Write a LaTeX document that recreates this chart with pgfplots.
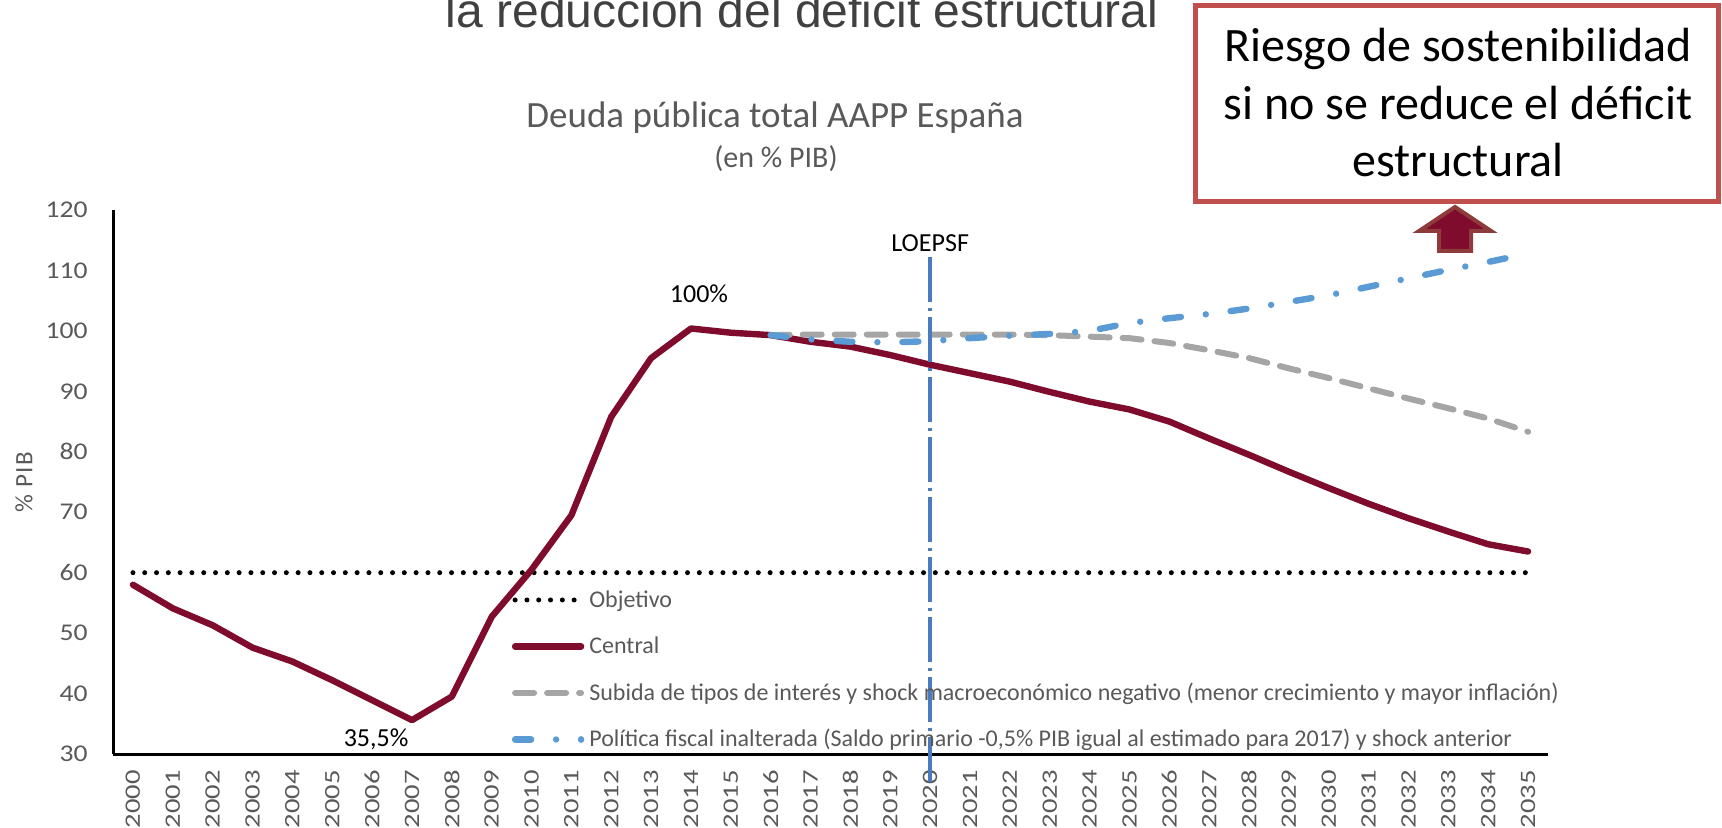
\documentclass[border=0pt]{standalone}
\usepackage{pgfplots}
\pgfplotsset{compat=1.18}
\usepackage{fontspec}
\setmainfont{Carlito}
\newfontfamily\arialf{Liberation Sans}
\newfontfamily\xstretchf[FakeStretch=1.3]{Carlito}
\newfontfamily\ystretchf[FakeStretch=1.15]{Carlito}
\newfontfamily\spacedf[LetterSpace=5]{Carlito}

\definecolor{cmaroon}{HTML}{7F0C2D}
\definecolor{cgraytxt}{HTML}{595959}
\definecolor{ctitle}{HTML}{404040}
\definecolor{cgrayline}{HTML}{A5A5A5}
\definecolor{cblue}{HTML}{5B9BD5}
\definecolor{cloe}{HTML}{4A7BBF}
\definecolor{cbox}{HTML}{C0504D}
\definecolor{carrowb}{HTML}{8E3B3B}

\begin{document}
\begin{tikzpicture}
\path[use as bounding box] (0,0) rectangle (861bp,414bp);
\clip (0,0) rectangle (861bp,414bp);

\node[anchor=base, text=ctitle, font=\arialf\fontsize{24bp}{28bp}\selectfont, inner sep=0pt] at (401bp,400bp) {la reducción del déficit estructural};

\node[anchor=base, text=cgraytxt, font=\fontsize{18.5bp}{22bp}\selectfont, inner sep=0pt] at (387.5bp,350bp) {Deuda pública total AAPP España};
\node[anchor=base, text=cgraytxt, font=\fontsize{15bp}{18bp}\selectfont, inner sep=0pt] at (388bp,330bp) {(en \% PIB)};

\node[rotate=90, text=cgraytxt, font=\spacedf\fontsize{12.5bp}{14bp}\selectfont, inner sep=0pt] at (12bp,173bp) {\% PIB};

\begin{axis}[
  at={(56.5bp,37bp)}, anchor=south west,
  scale only axis, width=717.5bp, height=272bp,
  xmin=1999.5, xmax=2035.5, ymin=30, ymax=120,
  axis x line*=bottom, axis y line*=left,
  axis line style={black, line width=1.5bp, -},
  xtick={2000,2001,...,2035}, ytick={30,40,...,120},
  major tick length=0pt,
  tick style={draw=none},
  /pgf/number format/assume math mode=true,
  /pgf/number format/1000 sep={},
  xticklabel style={rotate=90, anchor=east, inner sep=0pt, font=\xstretchf\fontsize{11bp}{13bp}\selectfont, text=cgraytxt},
  yticklabel style={anchor=east, inner sep=0pt, font=\ystretchf\fontsize{12bp}{14bp}\selectfont, text=cgraytxt},
  xticklabel shift=8bp, yticklabel shift=12.5bp,
  clip=false,
  no markers,
  legend style={draw=none, fill=none, inner sep=0pt, outer sep=0pt,
    at={(0.278,0.303)}, anchor=north west,
    font=\fontsize{12bp}{14bp}\selectfont, text=cgraytxt,
    row sep=11.25bp,
    nodes={inner sep=0pt, text height=9bp, text depth=3bp},
    /tikz/every odd column/.append style={column sep=2.5bp}},
  legend cell align=left,
  legend image code/.code={\draw[#1] (0bp,0.6bp) -- (33bp,0.6bp);},
]
\addplot[black, line width=2.5bp, line cap=round, dash pattern=on 0bp off 5.9bp] coordinates {
(2000,60) (2001,60) (2002,60) (2003,60) (2004,60) (2005,60) (2006,60) (2007,60) (2008,60) (2009,60)
(2010,60) (2011,60) (2012,60) (2013,60) (2014,60) (2015,60) (2016,60) (2017,60) (2018,60) (2019,60)
(2020,60) (2021,60) (2022,60) (2023,60) (2024,60) (2025,60) (2026,60) (2027,60) (2028,60) (2029,60)
(2030,60) (2031,60) (2032,60) (2033,60) (2034,60) (2035,60)};
\addlegendentry{Objetivo}
\addplot[cmaroon, line width=3.2bp, line join=round, line cap=round] coordinates {
(2000,58.0) (2001,54.1) (2002,51.3) (2003,47.6) (2004,45.3) (2005,42.2) (2006,38.9) (2007,35.6)
(2008,39.5) (2009,52.7) (2010,60.5) (2011,69.5) (2012,85.8) (2013,95.5) (2014,100.4) (2015,99.7)
(2016,99.3) (2017,98.2) (2018,97.4) (2019,96.0) (2020,94.4) (2021,93.0) (2022,91.6) (2023,89.9)
(2024,88.3) (2025,87.0) (2026,85.0) (2027,82.2) (2028,79.5) (2029,76.7) (2030,74.0) (2031,71.4)
(2032,69.0) (2033,66.8) (2034,64.7) (2035,63.5)};
\addlegendentry{Central}
\addplot[cgrayline, line width=3bp, line cap=round, line join=round, dash pattern=on 9.5bp off 6.5bp] coordinates {
(2016,99.3) (2017,99.4) (2018,99.4) (2019,99.4) (2020,99.4) (2021,99.4) (2022,99.4) (2023,99.3)
(2024,99.05) (2025,98.8) (2026,98.0) (2027,96.8) (2028,95.5) (2029,93.8) (2030,92.2) (2031,90.5)
(2032,88.8) (2033,87.2) (2034,85.5) (2035,83.3)};
\addlegendentry{Subida de tipos de interés y shock macroeconómico negativo (menor crecimiento y mayor inflación)}
\addplot[cblue, line width=3.2bp, line cap=round, line join=round, dash pattern=on 8bp off 12.5bp on 0bp off 12.5bp] coordinates {
(2016,99.3) (2017,98.6) (2018,98.2) (2019,98.1) (2020,98.3) (2021,98.8) (2022,99.2) (2023,99.5)
(2024,100.0) (2025,101.3) (2026,102.1) (2027,102.8) (2028,103.7) (2029,104.8) (2030,105.9) (2031,107.3)
(2032,108.7) (2033,110.1) (2034,111.4) (2035,112.8)};
\addlegendentry{Política fiscal inalterada (Saldo primario -0,5\% PIB igual al estimado para 2017) y shock anterior}

\draw[cloe, line width=2bp, dash pattern=on 22.5bp off 3bp on 1.5bp off 3bp] (axis cs:2020,112.2) -- (axis cs:2020,24.5);
\node[font=\fontsize{13bp}{15bp}\selectfont, inner sep=0pt] at (axis cs:2014.2,106.1) {100\%};
\node[font=\fontsize{13bp}{15bp}\selectfont, inner sep=0pt] at (axis cs:2006.1,32.5) {35,5\%};
\node[font=\fontsize{13bp}{15bp}\selectfont, inner sep=0pt] at (axis cs:2020,114.5) {LOEPSF};
\end{axis}

\draw[cbox, line width=2.5bp, fill=white] (597.5bp,313bp) rectangle (859bp,411bp);
\node[anchor=base, font=\fontsize{24bp}{29bp}\selectfont, inner sep=0pt] at (729bp,383bp) {Riesgo de sostenibilidad};
\node[anchor=base, font=\fontsize{24bp}{29bp}\selectfont, inner sep=0pt] at (729bp,354bp) {si no se reduce el déficit};
\node[anchor=base, font=\fontsize{24bp}{29bp}\selectfont, inner sep=0pt] at (729bp,325.5bp) {estructural};
\filldraw[fill=cmaroon, draw=carrowb, line width=2bp, line join=miter] (727.5bp,310.5bp) -- (745.5bp,298.5bp) -- (735.5bp,298.5bp) -- (735.5bp,288.5bp) -- (719.5bp,288.5bp) -- (719.5bp,298.5bp) -- (709.5bp,298.5bp) -- cycle;
\end{tikzpicture}
\end{document}
